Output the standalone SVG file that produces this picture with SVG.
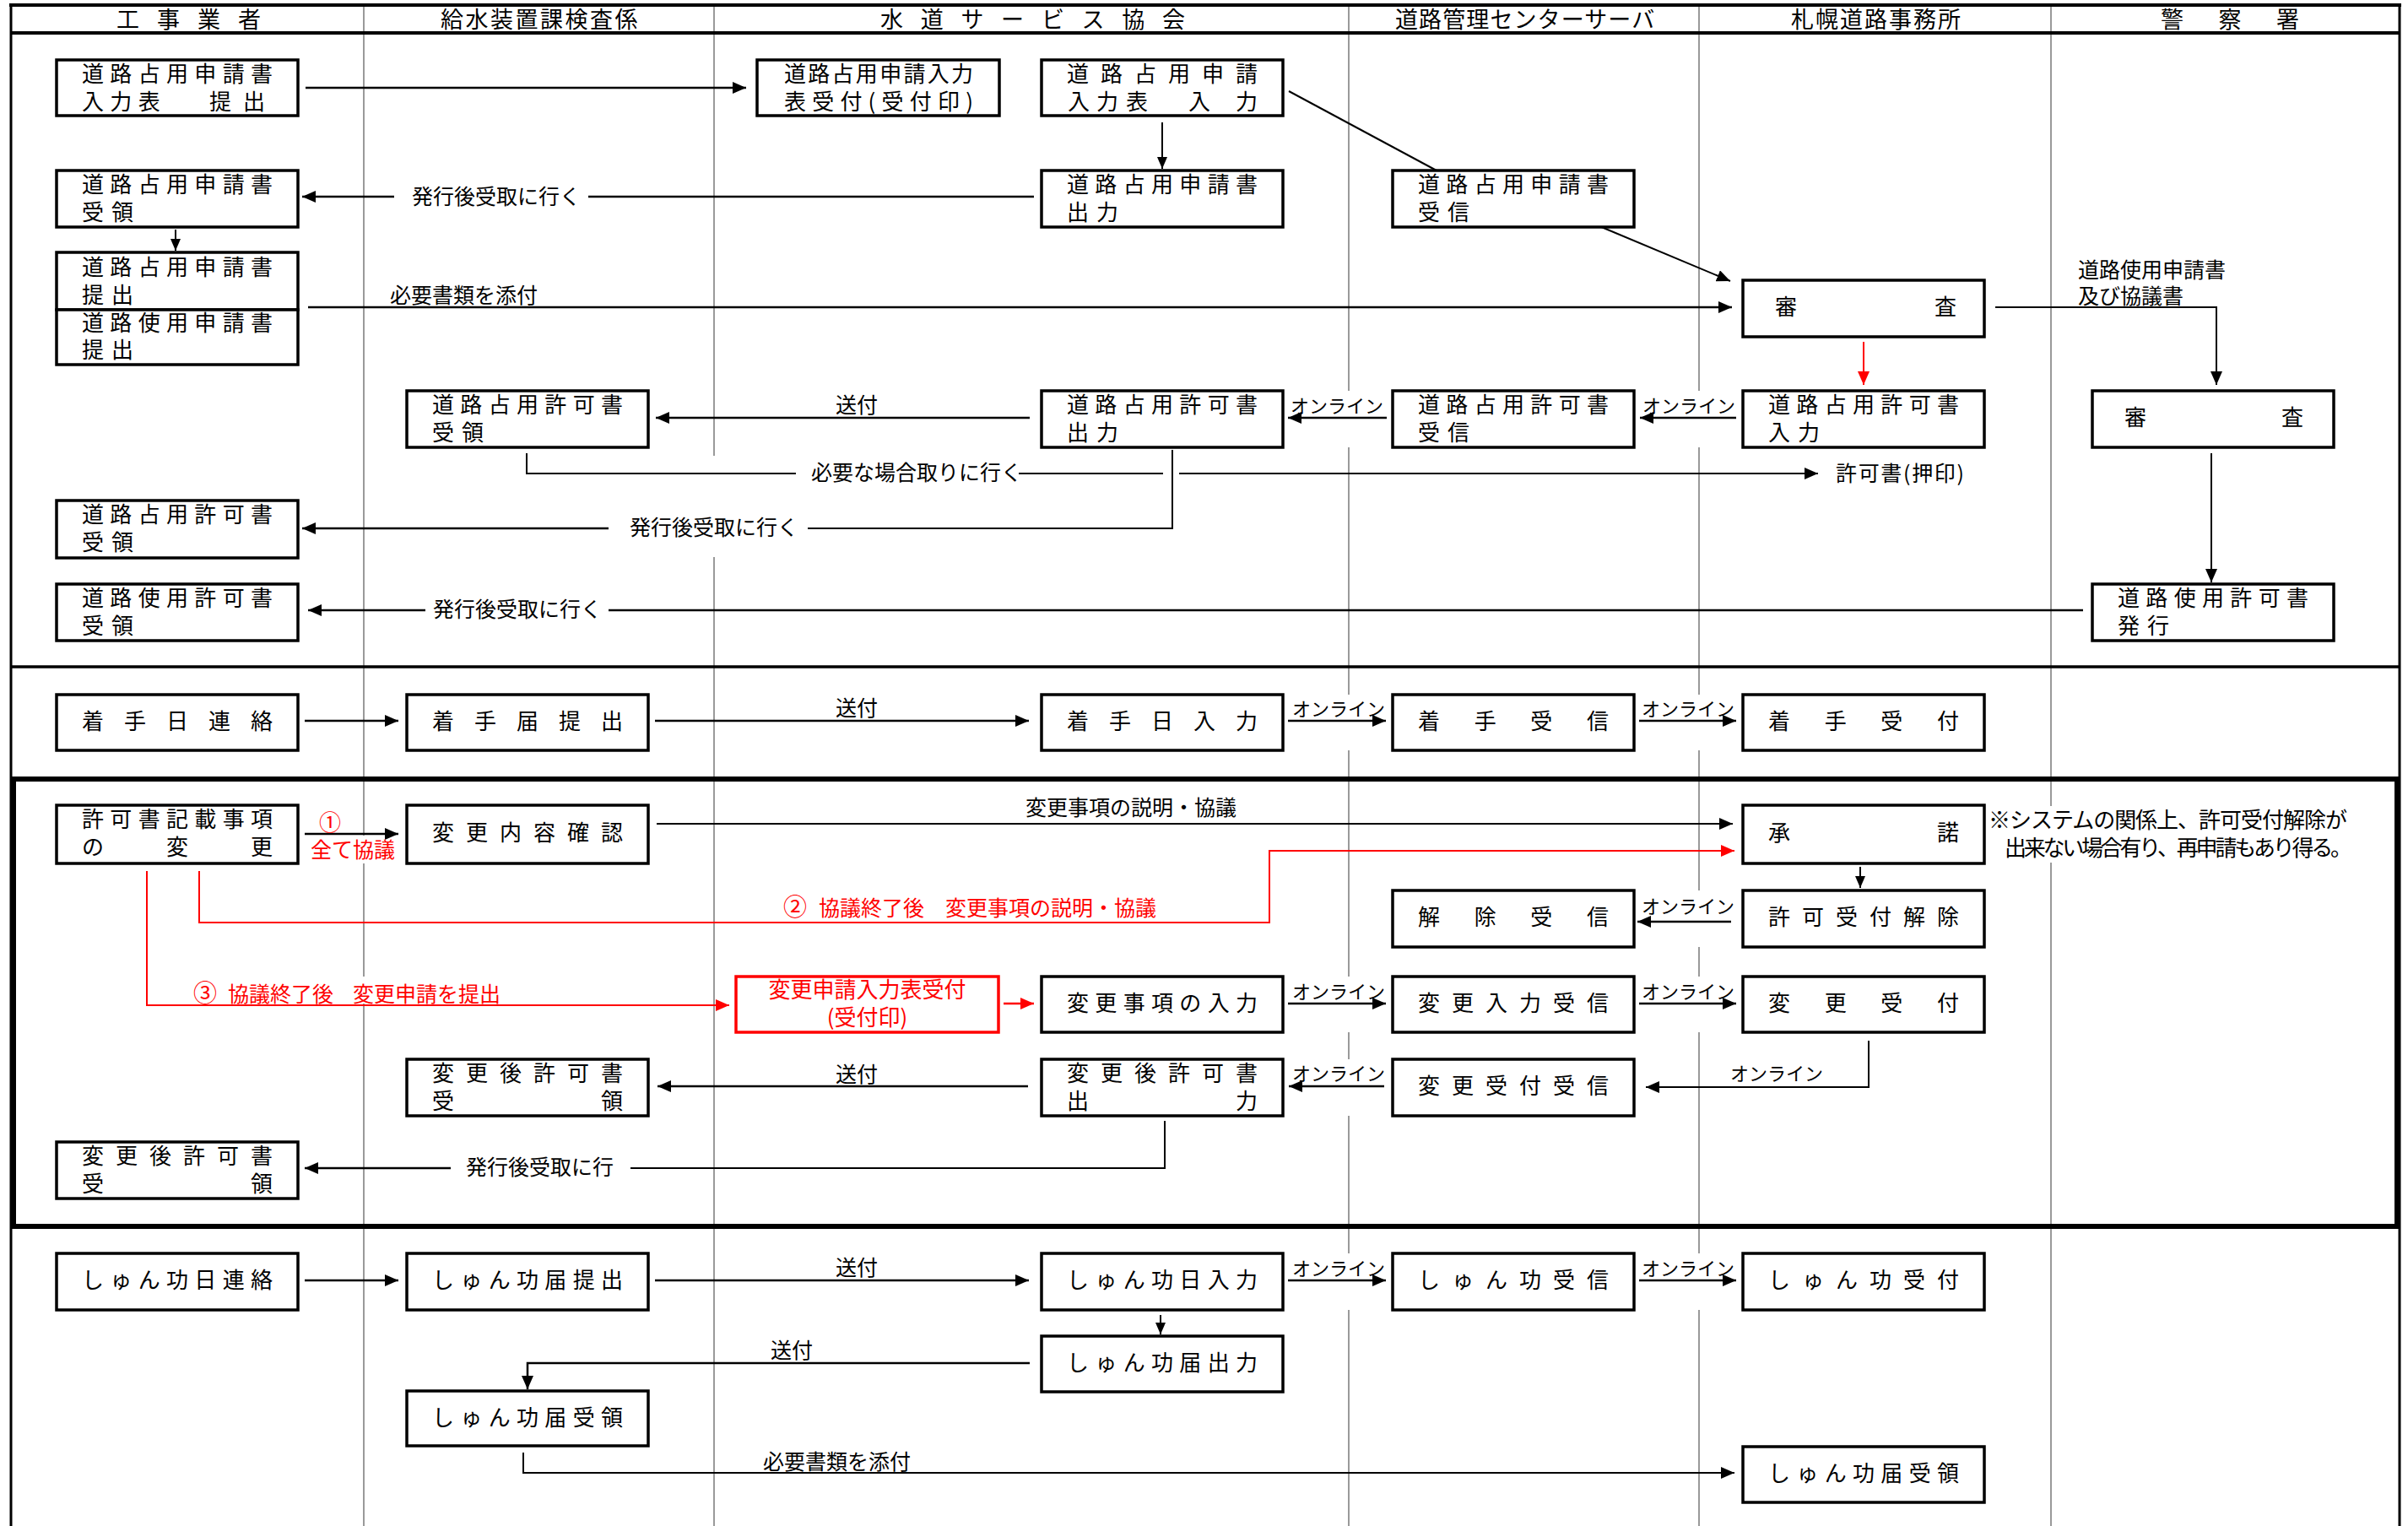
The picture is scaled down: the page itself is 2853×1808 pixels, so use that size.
<svg xmlns="http://www.w3.org/2000/svg" width="2853" height="1808" viewBox="0 0 2853 1808">
<defs>
<marker id="ah" viewBox="0 0 16 14" refX="16" refY="7" markerWidth="16" markerHeight="14" orient="auto" markerUnits="userSpaceOnUse"><path d="M0,0 L16,7 L0,14 z" fill="#000"/></marker>
<marker id="ahs" viewBox="0 0 14 12" refX="14" refY="6" markerWidth="14" markerHeight="12" orient="auto" markerUnits="userSpaceOnUse"><path d="M0,0 L14,6 L0,12 z" fill="#000"/></marker>
<marker id="ahr" viewBox="0 0 16 14" refX="16" refY="7" markerWidth="16" markerHeight="14" orient="auto" markerUnits="userSpaceOnUse"><path d="M0,0 L16,7 L0,14 z" fill="#f00"/></marker>
</defs>
<style>
.lane{stroke:#808080;stroke-width:1.6}
.mask{fill:#fff}
.fr{stroke:#000;fill:none}
.box rect{fill:#fff;stroke:#000;stroke-width:3.5}
.box rect.rb{stroke:#f00}
text{font-family:"Noto Sans CJK JP","Noto Sans CJK SC",sans-serif;font-size:26px;fill:#000}
.h{font-size:27px}
.lb{font-size:25px}
.on{font-size:22px}
.red{fill:#f00}
.c{fill:none;stroke:#000;stroke-width:2.5}
.thin{stroke-width:2}
.r{stroke:#f00}
</style>
<rect x="0" y="0" width="2853" height="1808" fill="#fff"/>

<g id="lanes">
<line class="lane" x1="431" y1="6" x2="431" y2="1808"/>
<line class="lane" x1="846" y1="6" x2="846" y2="1808"/>
<line class="lane" x1="1598" y1="6" x2="1598" y2="1808"/>
<line class="lane" x1="2013" y1="6" x2="2013" y2="1808"/>
<line class="lane" x1="2430" y1="6" x2="2430" y2="1808"/>
</g>
<g id="lane-gaps">
<rect class="mask" x="1527" y="463" width="114" height="67"/>
<rect class="mask" x="1943" y="463" width="114" height="67"/>
<rect class="mask" x="1527" y="823" width="114" height="66"/>
<rect class="mask" x="1943" y="823" width="114" height="66"/>
<rect class="mask" x="1943" y="1055" width="114" height="67"/>
<rect class="mask" x="1527" y="1157" width="114" height="66"/>
<rect class="mask" x="1943" y="1157" width="114" height="66"/>
<rect class="mask" x="1527" y="1255" width="114" height="67"/>
<rect class="mask" x="1527" y="1485" width="114" height="67"/>
<rect class="mask" x="1943" y="1485" width="114" height="67"/>
<rect class="mask" x="721" y="540" width="236" height="120"/>
<rect class="mask" x="366" y="990" width="106" height="33"/>
<rect class="mask" x="226" y="1157" width="376" height="32"/>
<rect class="mask" x="2354" y="955" width="436" height="67"/>
</g>

<g id="frame">
<line class="fr" x1="11" y1="6" x2="2845" y2="6" stroke-width="4"/>
<line class="fr" x1="13" y1="39" x2="2843" y2="39" stroke-width="4"/>
<line class="fr" x1="13" y1="4" x2="13" y2="1808" stroke-width="3"/>
<line class="fr" x1="2843" y1="4" x2="2843" y2="1808" stroke-width="3"/>
<line class="fr" x1="13" y1="790" x2="2843" y2="790" stroke-width="3.5"/>
<rect class="fr" x="16" y="923" width="2824" height="530" stroke-width="6"/>
</g>

<g id="headers">
<text class="h" x="138 186 234 282" y="33">工事業者</text>
<text class="h" x="522" y="33" letter-spacing="2.5">給水装置課検査係</text>
<text class="h" x="1043 1090.7 1138.4 1186.1 1233.9 1281.6 1329.3 1377" y="33">水道サービス協会</text>
<text class="h" x="1653" y="33" letter-spacing="1.1">道路管理センターサーバ</text>
<text class="h" x="2122" y="33" letter-spacing="2">札幌道路事務所</text>
<text class="h" x="2560 2628.5 2697" y="33">警察署</text>
</g>

<g id="connectors">
<path class="c" d="M362,104 H884" marker-end="url(#ah)"/>
<path class="c thin" d="M1377,145 V200" marker-end="url(#ahs)"/>
<path class="c thin" d="M1527,108 L1702,202"/>
<path class="c thin" d="M1895,268 L2050,333" marker-end="url(#ah)"/>
<path class="c" d="M1225,233 H697"/>
<path class="c" d="M467,233 H358" marker-end="url(#ah)"/>
<text class="lb" x="488" y="242">発行後受取に行く</text>
<path class="c thin" d="M208,272 V297" marker-end="url(#ahs)"/>
<path class="c" d="M365,364 H2052" marker-end="url(#ah)"/>
<text class="lb" x="462" y="359">必要書類を添付</text>
<path class="c thin" d="M2364,364 H2626 V456" marker-end="url(#ah)"/>
<text class="lb" x="2462" y="329">道路使用申請書</text>
<text class="lb" x="2462" y="360">及び協議書</text>
<path class="c thin r" d="M2208,405 V456" marker-end="url(#ahr)"/>
<path class="c" d="M2057,495 H1943" marker-end="url(#ah)"/>
<text class="on" x="1946" y="489">オンライン</text>
<path class="c" d="M1643,495 H1526" marker-end="url(#ah)"/>
<text class="on" x="1529" y="489">オンライン</text>
<path class="c" d="M1220,495 H777" marker-end="url(#ah)"/>
<text class="lb" x="990" y="489">送付</text>
<path class="c thin" d="M624,537 V561 H943"/>
<text class="lb" x="961" y="569" font-size="24">必要な場合取りに行く</text>
<path class="c thin" d="M1207,561 H1378"/>
<path class="c thin" d="M1397,561 H2154" marker-end="url(#ah)"/>
<text class="lb" x="2175" y="570" textLength="152">許可書(押印)</text>
<path class="c thin" d="M1389,533 V626 H957"/>
<path class="c" d="M721,626 H358" marker-end="url(#ah)"/>
<text class="lb" x="746" y="634">発行後受取に行く</text>
<path class="c" d="M2468,723 H721"/>
<path class="c" d="M504,723 H365" marker-end="url(#ah)"/>
<text class="lb" x="513" y="731">発行後受取に行く</text>
<path class="c thin" d="M2620,537 V690" marker-end="url(#ah)"/>

<path class="c" d="M361,854 H472" marker-end="url(#ah)"/>
<path class="c" d="M776,854 H1219" marker-end="url(#ah)"/>
<text class="lb" x="990" y="848">送付</text>
<path class="c" d="M1526,854 H1642" marker-end="url(#ah)"/>
<text class="on" x="1531" y="848">オンライン</text>
<path class="c" d="M1942,854 H2057" marker-end="url(#ah)"/>
<text class="on" x="1945" y="848">オンライン</text>

<path class="c" d="M361,988 H472" marker-end="url(#ah)"/>
<text class="red" x="378" y="984" font-size="28">①</text>
<text class="lb red" x="368" y="1016">全て協議</text>
<path class="c thin" d="M778,976 H2053" marker-end="url(#ah)"/>
<text class="lb" x="1215" y="966">変更事項の説明・協議</text>
<path class="c thin r" d="M236,1032 V1093 H1504 V1008 H2055" marker-end="url(#ahr)"/>
<text class="lb red" y="1085"><tspan x="928" font-size="28">②</tspan><tspan x="970">協議終了後</tspan><tspan x="1120">変更事項の説明・協議</tspan></text>
<path class="c thin r" d="M174,1032 V1191 H864" marker-end="url(#ahr)"/>
<text class="lb red" y="1187"><tspan x="229" font-size="28">③</tspan><tspan x="270">協議終了後</tspan><tspan x="418">変更申請を提出</tspan></text>
<path class="c r" d="M1189,1189 H1225" marker-end="url(#ahr)"/>
<path class="c" d="M1526,1189 H1642" marker-end="url(#ah)"/>
<text class="on" x="1531" y="1183">オンライン</text>
<path class="c" d="M1942,1189 H2057" marker-end="url(#ah)"/>
<text class="on" x="1945" y="1183">オンライン</text>
<path class="c thin" d="M2204,1027 V1052" marker-end="url(#ahs)"/>
<path class="c" d="M2051,1092 H1940" marker-end="url(#ah)"/>
<text class="on" x="1945" y="1082">オンライン</text>
<path class="c thin" d="M2214,1233 V1288 H1950" marker-end="url(#ah)"/>
<text class="on" x="2050" y="1280">オンライン</text>
<path class="c" d="M1640,1287 H1527" marker-end="url(#ah)"/>
<text class="on" x="1531" y="1280">オンライン</text>
<path class="c" d="M1218,1287 H779" marker-end="url(#ah)"/>
<text class="lb" x="990" y="1282">送付</text>
<path class="c thin" d="M1380,1328 V1384 H747"/>
<path class="c" d="M534,1384 H361" marker-end="url(#ah)"/>
<text class="lb" x="552" y="1392">発行後受取に行</text>

<path class="c" d="M361,1517 H472" marker-end="url(#ah)"/>
<path class="c" d="M776,1517 H1219" marker-end="url(#ah)"/>
<text class="lb" x="990" y="1511">送付</text>
<path class="c" d="M1526,1517 H1642" marker-end="url(#ah)"/>
<text class="on" x="1531" y="1511">オンライン</text>
<path class="c" d="M1942,1517 H2057" marker-end="url(#ah)"/>
<text class="on" x="1945" y="1511">オンライン</text>
<path class="c thin" d="M1375,1558 V1581" marker-end="url(#ahs)"/>
<path class="c" d="M1220,1615 H625 V1646" marker-end="url(#ah)"/>
<text class="lb" x="913" y="1609">送付</text>
<path class="c thin" d="M620,1721 V1745 H2055" marker-end="url(#ah)"/>
<text class="lb" x="904" y="1741">必要書類を添付</text>
</g>

<g id="note">
<text x="2356" y="981" font-size="24" textLength="425">※システムの関係上、許可受付解除が</text>
<text x="2375" y="1014" font-size="24" textLength="412">出来ない場合有り、再申請もあり得る。</text>
</g>

<g id="n-a1" class="box"><rect x="67" y="71" width="286" height="66"/><text x="97 130.3 163.7 197 230.3 263.7 297" y="97">道路占用申請書</text><text x="97 130.3 163.7 248 288" y="130">入力表提出</text></g>
<g id="n-b1" class="box"><rect x="897" y="71" width="287" height="66"/><text x="929" y="97" textLength="224">道路占用申請入力</text><text x="929" y="130" textLength="224">表受付(受付印)</text></g>
<g id="n-c1" class="box"><rect x="1234" y="71" width="286" height="66"/><text x="1264 1304 1344 1384 1424 1464" y="97">道路占用申請</text><text x="1265 1299 1334 1408 1464" y="130">入力表入力</text></g>
<g id="n-a2" class="box"><rect x="67" y="202" width="286" height="67"/><text x="97 130.3 163.7 197 230.3 263.7 297" y="228">道路占用申請書</text><text x="97 132" y="261">受領</text></g>
<g id="n-c2" class="box"><rect x="1234" y="202" width="286" height="67"/><text x="1264 1297.3 1330.7 1364 1397.3 1430.7 1464" y="228">道路占用申請書</text><text x="1264 1299" y="261">出力</text></g>
<g id="n-d2" class="box"><rect x="1650" y="202" width="286" height="67"/><text x="1680 1713.3 1746.7 1780 1813.3 1846.7 1880" y="228">道路占用申請書</text><text x="1680 1715" y="261">受信</text></g>
<g id="n-a3" class="box"><rect x="67" y="299" width="286" height="68"/><text x="97 130.3 163.7 197 230.3 263.7 297" y="326">道路占用申請書</text><text x="97 132" y="359">提出</text></g>
<g id="n-a3b" class="box"><rect x="67" y="367" width="286" height="65"/><text x="97 130.3 163.7 197 230.3 263.7 297" y="392">道路使用申請書</text><text x="97 132" y="424">提出</text></g>
<g id="n-e3" class="box"><rect x="2065" y="332" width="286" height="67"/><text x="2103 2292" y="373">審査</text></g>
<g id="n-b4" class="box"><rect x="482" y="463" width="286" height="67"/><text x="512 545.3 578.7 612 645.3 678.7 712" y="489">道路占用許可書</text><text x="512 547" y="522">受領</text></g>
<g id="n-c4" class="box"><rect x="1234" y="463" width="286" height="67"/><text x="1264 1297.3 1330.7 1364 1397.3 1430.7 1464" y="489">道路占用許可書</text><text x="1264 1299" y="522">出力</text></g>
<g id="n-d4" class="box"><rect x="1650" y="463" width="286" height="67"/><text x="1680 1713.3 1746.7 1780 1813.3 1846.7 1880" y="489">道路占用許可書</text><text x="1680 1715" y="522">受信</text></g>
<g id="n-e4" class="box"><rect x="2065" y="463" width="286" height="67"/><text x="2095 2128.3 2161.7 2195 2228.3 2261.7 2295" y="489">道路占用許可書</text><text x="2095 2130" y="522">入力</text></g>
<g id="n-f4" class="box"><rect x="2479" y="463" width="286" height="67"/><text x="2517 2703" y="504">審査</text></g>
<g id="n-a5" class="box"><rect x="67" y="593" width="286" height="68"/><text x="97 130.3 163.7 197 230.3 263.7 297" y="619">道路占用許可書</text><text x="97 132" y="652">受領</text></g>
<g id="n-a6" class="box"><rect x="67" y="692" width="286" height="67"/><text x="97 130.3 163.7 197 230.3 263.7 297" y="718">道路使用許可書</text><text x="97 132" y="751">受領</text></g>
<g id="n-f6" class="box"><rect x="2479" y="692" width="286" height="67"/><text x="2509 2542.3 2575.7 2609 2642.3 2675.7 2709" y="718">道路使用許可書</text><text x="2509 2544" y="751">発行</text></g>

<g id="n-a7" class="box"><rect x="67" y="823" width="286" height="66"/><text x="97 147 197 247 297" y="864">着手日連絡</text></g>
<g id="n-b7" class="box"><rect x="482" y="823" width="286" height="66"/><text x="512 562 612 662 712" y="864">着手届提出</text></g>
<g id="n-c7" class="box"><rect x="1234" y="823" width="286" height="66"/><text x="1264 1314 1364 1414 1464" y="864">着手日入力</text></g>
<g id="n-d7" class="box"><rect x="1650" y="823" width="286" height="66"/><text x="1680 1746.7 1813.3 1880" y="864">着手受信</text></g>
<g id="n-e7" class="box"><rect x="2065" y="823" width="286" height="66"/><text x="2095 2161.7 2228.3 2295" y="864">着手受付</text></g>

<g id="n-a8" class="box"><rect x="67" y="954" width="286" height="69"/><text x="97 130.3 163.7 197 230.3 263.7 297" y="980">許可書記載事項</text><text x="97 197 297" y="1013">の変更</text></g>
<g id="n-b8" class="box"><rect x="482" y="954" width="286" height="69"/><text x="512 552 592 632 672 712" y="996">変更内容確認</text></g>
<g id="n-e8" class="box"><rect x="2065" y="954" width="286" height="69"/><text x="2095 2295" y="996">承諾</text></g>
<g id="n-d9" class="box"><rect x="1650" y="1055" width="286" height="67"/><text x="1680 1746.7 1813.3 1880" y="1096">解除受信</text></g>
<g id="n-e9" class="box"><rect x="2065" y="1055" width="286" height="67"/><text x="2095 2135 2175 2215 2255 2295" y="1096">許可受付解除</text></g>
<g id="n-r10" class="box"><rect class="rb" x="872" y="1157" width="311" height="66"/><text class="red" x="1027.5" y="1182" font-size="24" text-anchor="middle">変更申請入力表受付</text><text class="red" x="1027.5" y="1215" font-size="24" text-anchor="middle">(受付印)</text></g>
<g id="n-c10" class="box"><rect x="1234" y="1157" width="286" height="66"/><text x="1264 1297.3 1330.7 1364 1397.3 1430.7 1464" y="1198">変更事項の入力</text></g>
<g id="n-d10" class="box"><rect x="1650" y="1157" width="286" height="66"/><text x="1680 1720 1760 1800 1840 1880" y="1198">変更入力受信</text></g>
<g id="n-e10" class="box"><rect x="2065" y="1157" width="286" height="66"/><text x="2095 2161.7 2228.3 2295" y="1198">変更受付</text></g>
<g id="n-b11" class="box"><rect x="482" y="1255" width="286" height="67"/><text x="512 552 592 632 672 712" y="1281">変更後許可書</text><text x="512 712" y="1314">受領</text></g>
<g id="n-c11" class="box"><rect x="1234" y="1255" width="286" height="67"/><text x="1264 1304 1344 1384 1424 1464" y="1281">変更後許可書</text><text x="1264 1464" y="1314">出力</text></g>
<g id="n-d11" class="box"><rect x="1650" y="1255" width="286" height="67"/><text x="1680 1720 1760 1800 1840 1880" y="1296">変更受付受信</text></g>
<g id="n-a12" class="box"><rect x="67" y="1353" width="286" height="67"/><text x="97 137 177 217 257 297" y="1379">変更後許可書</text><text x="97 297" y="1412">受領</text></g>

<g id="n-a13" class="box"><rect x="67" y="1485" width="286" height="67"/><text x="97 130.3 163.7 197 230.3 263.7 297" y="1526">しゅん功日連絡</text></g>
<g id="n-b13" class="box"><rect x="482" y="1485" width="286" height="67"/><text x="512 545.3 578.7 612 645.3 678.7 712" y="1526">しゅん功届提出</text></g>
<g id="n-c13" class="box"><rect x="1234" y="1485" width="286" height="67"/><text x="1264 1297.3 1330.7 1364 1397.3 1430.7 1464" y="1526">しゅん功日入力</text></g>
<g id="n-d13" class="box"><rect x="1650" y="1485" width="286" height="67"/><text x="1680 1720 1760 1800 1840 1880" y="1526">しゅん功受信</text></g>
<g id="n-e13" class="box"><rect x="2065" y="1485" width="286" height="67"/><text x="2095 2135 2175 2215 2255 2295" y="1526">しゅん功受付</text></g>
<g id="n-c14" class="box"><rect x="1234" y="1583" width="286" height="66"/><text x="1264 1297.3 1330.7 1364 1397.3 1430.7 1464" y="1624">しゅん功届出力</text></g>
<g id="n-b15" class="box"><rect x="482" y="1648" width="286" height="65"/><text x="512 545.3 578.7 612 645.3 678.7 712" y="1689">しゅん功届受領</text></g>
<g id="n-e15" class="box"><rect x="2065" y="1714" width="286" height="66"/><text x="2095 2128.3 2161.7 2195 2228.3 2261.7 2295" y="1755">しゅん功届受領</text></g>
</svg>
